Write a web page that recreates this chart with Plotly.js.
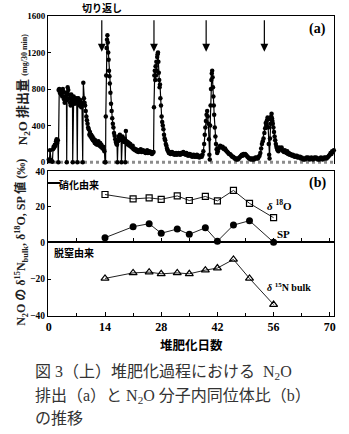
<!DOCTYPE html>
<html><head><meta charset="utf-8">
<script src="https://cdn.plot.ly/plotly-3.0.1.min.js"></script>
<style>html,body{margin:0;padding:0;background:#fff;}</style>
</head><body><div id="chart" style="width:349px;height:434px;"></div>
<script>
// ---- panel (a): N2O emission (mg/30 min) vs composting day ----
const n2oDay = [
 0,0.15,0.3,0.45,0.6,0.75,0.9,1.05,1.2,1.35,1.5,1.65,1.8,1.95,2.1,2.25,2.37,
 2.45,2.6,2.75,2.9,3.05,3.2,3.35,3.5,3.65,3.8,3.95,4.1,4.25,4.4,4.46,
 4.55,4.7,4.85,5.0,5.15,5.3,5.45,5.6,5.75,5.9,5.95,
 6.05,6.2,6.35,6.5,6.65,6.8,6.95,7.1,
 7.2,7.35,7.5,7.65,7.8,7.95,8.1,8.25,8.45,
 8.6,8.75,8.9,9.05,9.2,9.35,9.5,9.65,9.8,9.95,
 10.1,10.25,10.4,10.55,10.7,10.85,11.0,11.15,11.3,11.45,
 11.6,11.75,11.9,12.05,12.2,12.35,12.5,12.65,12.8,12.95,
 13.1,13.25,13.4,13.55,13.7,13.85,14.0,14.15,
 14.2,14.3,14.4,14.5,14.6,14.7,14.8,14.9,15.0,15.1,15.2,15.35,
 15.5,15.65,15.8,15.95,16.1,16.25,16.4,16.55,16.7,16.85,17.0,17.1,
 17.25,17.4,17.55,17.7,17.85,18.0,18.1,18.2,18.35,18.5,18.65,18.8,18.95,19.05,
 19.2,19.35,19.5,19.65,19.8,19.95,20.1,20.3,20.5,20.7,20.9,
 21.1,21.3,21.5,21.7,21.9,22.1,22.3,22.5,22.7,22.9,
 23.1,23.3,23.5,23.7,23.9,24.1,24.3,24.5,24.7,24.9,
 25.1,25.3,25.5,25.7,25.9,26.1,
 26.2,26.3,26.4,26.5,26.6,26.7,26.8,26.9,27.0,27.1,27.2,27.3,
 27.4,27.5,27.6,27.7,27.8,27.95,28.1,28.25,28.4,28.55,28.7,28.85,
 29.0,29.15,29.3,29.45,29.6,29.75,29.9,
 30.1,30.3,30.5,30.7,30.9,31.1,31.3,31.5,31.7,31.9,
 32.1,32.3,32.5,32.7,32.9,33.1,33.3,33.5,33.7,33.9,
 34.1,34.3,34.5,34.7,34.9,35.1,35.3,35.5,35.7,35.9,
 36.1,36.3,36.5,36.7,36.9,37.1,37.3,37.5,37.7,37.9,38.1,38.3,
 38.5,38.7,38.85,39.0,39.15,39.3,39.45,39.6,39.75,39.9,40.0,40.1,
 40.2,40.3,40.4,40.5,40.6,40.7,40.8,40.9,41.0,41.1,41.2,41.35,
 41.5,41.65,41.8,41.95,42.1,42.3,42.5,42.7,42.9,43.1,43.3,43.5,
 43.7,43.9,44.1,44.3,44.5,44.7,44.9,45.1,45.3,45.5,45.7,45.9,
 46.1,46.3,46.5,46.7,46.9,47.1,47.3,47.5,47.7,47.9,
 48.1,48.3,48.5,48.7,48.9,49.1,49.3,49.5,49.7,49.9,
 50.1,50.3,50.5,50.7,50.9,51.1,51.3,51.5,51.7,51.9,52.1,52.3,52.5,
 52.7,52.9,53.1,53.3,53.5,53.7,53.9,54.05,54.2,54.35,54.5,54.65,54.8,54.9,55.0,
 55.1,55.2,55.3,55.4,55.5,55.6,55.7,55.8,55.95,56.1,56.25,56.4,56.55,56.7,56.85,57.0,
 57.2,57.4,57.6,57.8,58.0,58.2,58.4,58.6,58.8,59.0,59.2,59.4,59.6,59.8,
 60.0,60.2,60.4,60.6,60.8,61.0,61.2,61.4,61.6,61.8,
 62.0,62.2,62.4,62.6,62.8,63.0,63.2,63.4,63.6,63.8,
 64.0,64.2,64.4,64.6,64.8,65.0,65.2,65.4,65.6,65.8,
 66.0,66.2,66.4,66.6,66.8,67.0,67.2,67.4,67.6,67.8,
 68.0,68.2,68.4,68.6,68.8,69.0,69.2,69.4,69.6,69.8,
 70.0,70.2,70.4,70.6,70.8,71.0
];
const n2oFlux = [
 30,20,130,25,15,10,5,140,170,160,190,180,230,250,210,240,0,
 790,800,760,790,740,780,720,800,770,690,650,720,760,700,0,
 680,820,790,740,700,650,620,740,700,680,0,
 660,720,700,640,690,660,700,0,
 650,700,660,620,680,640,600,650,0,
 870,700,650,620,560,500,460,420,380,360,
 300,330,280,300,260,280,240,260,230,210,
 240,200,220,190,210,230,200,180,210,170,
 190,160,150,170,140,120,0,0,
 500,950,1250,1340,1390,1310,1200,1120,1000,940,860,760,
 640,560,480,420,380,320,290,250,220,200,190,0,
 230,280,260,300,250,270,0,240,280,230,260,220,250,0,
 340,230,200,220,190,210,180,200,170,160,180,
 140,150,130,140,120,130,110,130,120,140,
 110,120,130,110,120,100,110,130,100,110,
 120,100,110,90,100,110,
 600,950,1000,900,1050,950,1100,1000,1150,1180,1200,1100,
 980,900,820,850,700,620,500,440,400,360,300,260,
 240,200,180,150,130,120,100,
 110,90,100,110,90,100,80,90,100,80,
 90,100,90,80,100,90,100,110,90,100,
 80,100,90,70,80,90,70,80,60,70,
 80,60,70,60,80,60,70,50,60,70,60,80,
 120,200,300,380,450,520,560,500,420,250,80,30,
 400,620,800,900,970,1000,930,820,720,620,520,380,
 280,200,140,100,120,150,170,180,170,160,170,150,
 140,150,130,120,110,100,90,90,80,70,60,60,
 50,40,40,30,40,30,40,50,60,70,
 80,70,90,80,90,80,70,60,50,40,
 40,30,40,30,40,30,40,50,40,50,40,60,70,
 100,150,200,230,260,320,370,430,400,460,490,380,200,80,40,
 260,420,470,500,530,480,450,420,380,330,280,240,200,170,150,130,
 120,160,150,140,160,130,120,110,130,110,100,120,90,100,
 80,90,80,70,80,70,60,70,60,70,
 50,60,50,60,40,50,40,30,40,30,
 40,50,40,50,40,30,40,50,40,30,
 40,50,40,50,40,30,40,30,40,50,
 40,30,40,50,40,50,40,50,60,70,
 80,100,90,120,110,130
];
const turnDays = [13.2, 26.2, 39.2, 53.7];   // 切り返し (turning) days

// ---- panel (b): isotope values ----
const isoDays = [14, 21, 25, 28, 32, 35, 39, 42, 46, 50, 56];
const d18O    = [27.0, 24.5, 25.1, 24.3, 26.2, 23.6, 25.9, 23.4, 29.3, 22.0, 13.9];
const spVal   = [2.6, 8.8, 10.5, 5.1, 7.5, 4.5, 8.2, 0.6, 9.7, 12.2, 0];
const d15N    = [-19.6, -16.6, -16.2, -17.1, -16.6, -17.1, -15.1, -14.0, -9.3, -19.6, -33.8];
const nitrifSP = 33.5;   // 硝化由来 SP
const denitSP  = 0;      // 脱窒由来 SP

const xTicks = [0, 14, 28, 42, 56, 70];
const yTicksA = [0, 400, 800, 1200, 1600];
const yTicksB = [0, 20, 40];
const yTicksC = [-40, -20];

const serif = 'Liberation Serif, Noto Sans CJK JP';
const cjk = 'Noto Sans CJK JP';
const xRange = [-0.2, 71.05];

const traces = [
  {x: n2oDay, y: n2oFlux, xaxis:'x3', yaxis:'y3', mode:'lines+markers',
   line:{color:'#000', width:1.2}, marker:{symbol:'circle', size:4.5, color:'#000'}, cliponaxis:false},
  {x: isoDays, y: d18O, xaxis:'x2', yaxis:'y2', mode:'lines+markers',
   line:{color:'#222', width:1}, marker:{symbol:'square-open', size:6, color:'#000', line:{width:1.2}}, cliponaxis:false},
  {x: isoDays, y: spVal, xaxis:'x2', yaxis:'y2', mode:'lines+markers',
   line:{color:'#222', width:1}, marker:{symbol:'circle', size:7, color:'#000'}, cliponaxis:false},
  {x: isoDays, y: d15N, xaxis:'x', yaxis:'y', mode:'lines+markers',
   line:{color:'#222', width:1}, marker:{symbol:'triangle-up-open', size:7, color:'#000', line:{width:1.2}}, cliponaxis:false}
];

const tickFontY = {family: serif, size: 9.5, color:'#000', weight:'bold'};
const baseAx = {showgrid:false, zeroline:false, showline:true, linecolor:'#000', linewidth:1};

const annotations = [];
turnDays.forEach(d => annotations.push({
  xref:'x3', yref:'y3', axref:'x3', ayref:'y3', x:d, y:1210, ax:d, ay:1570,
  text:'', showarrow:true, arrowhead:2, arrowsize:1.3, arrowwidth:1.2, arrowcolor:'#000', standoff:0
}));
annotations.push(
  {xref:'x3', yref:'paper', x:turnDays[0], y:1.027, text:'<b>切り返し</b>', showarrow:false,
   font:{family:cjk, size:10, color:'#000'}, xanchor:'center', yanchor:'middle'},
  {xref:'paper', yref:'paper', x:0.944, y:0.957, text:'<b>(a)</b>', showarrow:false,
   font:{family:serif, size:14, color:'#000'}, xanchor:'center', yanchor:'middle'},
  {xref:'paper', yref:'paper', x:0.944, y:0.443, text:'<b>(b)</b>', showarrow:false,
   font:{family:serif, size:14, color:'#000'}, xanchor:'center', yanchor:'middle'},
  {xref:'paper', yref:'paper', x:0.81, y:0.37, text:'<b><i>δ</i> <sup>18</sup>O</b>', showarrow:false,
   font:{family:serif, size:11, color:'#000'}, xanchor:'center', yanchor:'middle'},
  {xref:'paper', yref:'paper', x:0.822, y:0.273, text:'<b>SP</b>', showarrow:false,
   font:{family:serif, size:11, color:'#000'}, xanchor:'center', yanchor:'middle'},
  {xref:'paper', yref:'paper', x:0.841, y:0.098, text:'<b><i>δ</i> <sup>15</sup>N bulk</b>', showarrow:false,
   font:{family:serif, size:10, color:'#000'}, xanchor:'center', yanchor:'middle'},
  {xref:'paper', yref:'paper', x:0.107, y:0.437, text:'<b>硝化由来</b>', showarrow:false,
   font:{family:cjk, size:10, color:'#000'}, xanchor:'center', yanchor:'middle'},
  {xref:'paper', yref:'paper', x:0.091, y:0.211, text:'<b>脱窒由来</b>', showarrow:false,
   font:{family:cjk, size:10, color:'#000'}, xanchor:'center', yanchor:'middle'},
  {xref:'paper', yref:'paper', x:-0.087, y:0.753, textangle:-90,
   text:'<b>N<sub>2</sub>O 排出量</b> <span style="font-size:8px"><b>(mg/30 min)</b></span>', showarrow:false,
   font:{family:serif, size:13, color:'#222'}, xanchor:'center', yanchor:'middle'},
  {xref:'paper', yref:'paper', x:-0.091, y:0.247, textangle:-90,
   text:'<b>N<sub>2</sub>O の δ<sup>15</sup>N<sub>bulk</sub>, δ<sup>18</sup>O, SP 値 (‰)</b>', showarrow:false,
   font:{family:serif, size:12, color:'#222'}, xanchor:'center', yanchor:'middle'},
  {xref:'paper', yref:'paper', x:0.503, y:-0.094, text:'<b>堆肥化日数</b>', showarrow:false,
   font:{family:cjk, size:12.5, color:'#000'}, xanchor:'center', yanchor:'middle'},
  {xref:'paper', yref:'paper', x:-0.052, y:-0.187, text:'図 3（上）堆肥化過程における  N<sub>2</sub>O', showarrow:false,
   font:{family:serif, size:16, color:'#333'}, xanchor:'left', yanchor:'middle'},
  {xref:'paper', yref:'paper', x:-0.052, y:-0.267, text:'排出（a）と N<sub>2</sub>O 分子内同位体比（b）', showarrow:false,
   font:{family:serif, size:16, color:'#333'}, xanchor:'left', yanchor:'middle'},
  {xref:'paper', yref:'paper', x:-0.052, y:-0.34, text:'の推移', showarrow:false,
   font:{family:serif, size:16, color:'#333'}, xanchor:'left', yanchor:'middle'}
);

const layout = {
  width:349, height:434,
  margin:{l:48, r:15, t:16, b:118},
  paper_bgcolor:'#fff', plot_bgcolor:'#fff',
  showlegend:false,
  font:{family:serif, color:'#000'},
  xaxis: Object.assign({}, baseAx, {domain:[0,1], anchor:'y', range:xRange, mirror:true,
    tickmode:'array', tickvals:xTicks, ticks:'inside', ticklen:4, tickcolor:'#000',
    minor:{tickmode:'linear', tick0:0, dtick:7, ticks:'inside', ticklen:3, tickcolor:'#000'},
    tickfont:{family:serif, size:12, color:'#000', weight:'bold'}}),
  yaxis: Object.assign({}, baseAx, {domain:[0,0.2457], anchor:'x', range:[-40,0], mirror:true,
    tickmode:'array', tickvals:yTicksC, ticks:'inside', ticklen:3, tickcolor:'#000', tickfont:tickFontY}),
  xaxis2: Object.assign({}, baseAx, {domain:[0,1], anchor:'y2', range:xRange, mirror:true,
    tickmode:'linear', tick0:0, dtick:7, ticks:'inside', ticklen:4, tickcolor:'#000', showticklabels:false}),
  yaxis2: Object.assign({}, baseAx, {domain:[0.2457,0.4817], anchor:'x2', range:[0,40], mirror:true,
    tickmode:'array', tickvals:yTicksB, ticks:'inside', ticklen:3, tickcolor:'#000', tickfont:tickFontY}),
  xaxis3: Object.assign({}, baseAx, {domain:[0,1], anchor:'y3', range:xRange, side:'top',
    ticks:'', showticklabels:false}),
  yaxis3: Object.assign({}, baseAx, {domain:[0.5067,1], anchor:'x3', range:[-20,1600], mirror:true,
    tickmode:'array', tickvals:yTicksA, ticks:'inside', ticklen:3, tickcolor:'#000',
    tickfont:{family: serif, size: 9, color:'#000', weight:'bold'}}),
  shapes:[
    {type:'line', xref:'paper', yref:'y3', x0:0, x1:1, y0:0, y1:0, layer:'below',
     line:{color:'#8c8c8c', width:3, dash:'3px,3px'}},
    {type:'line', xref:'paper', yref:'y2', x0:0, x1:0.042, y0:nitrifSP, y1:nitrifSP,
     line:{color:'#000', width:2}},
    {type:'line', xref:'paper', yref:'y2', x0:0, x1:0.042, y0:denitSP, y1:denitSP,
     line:{color:'#000', width:2.5}}
  ],
  annotations: annotations
};

Plotly.newPlot('chart', traces, layout, {displayModeBar:false, staticPlot:true});
</script>
</body></html>
